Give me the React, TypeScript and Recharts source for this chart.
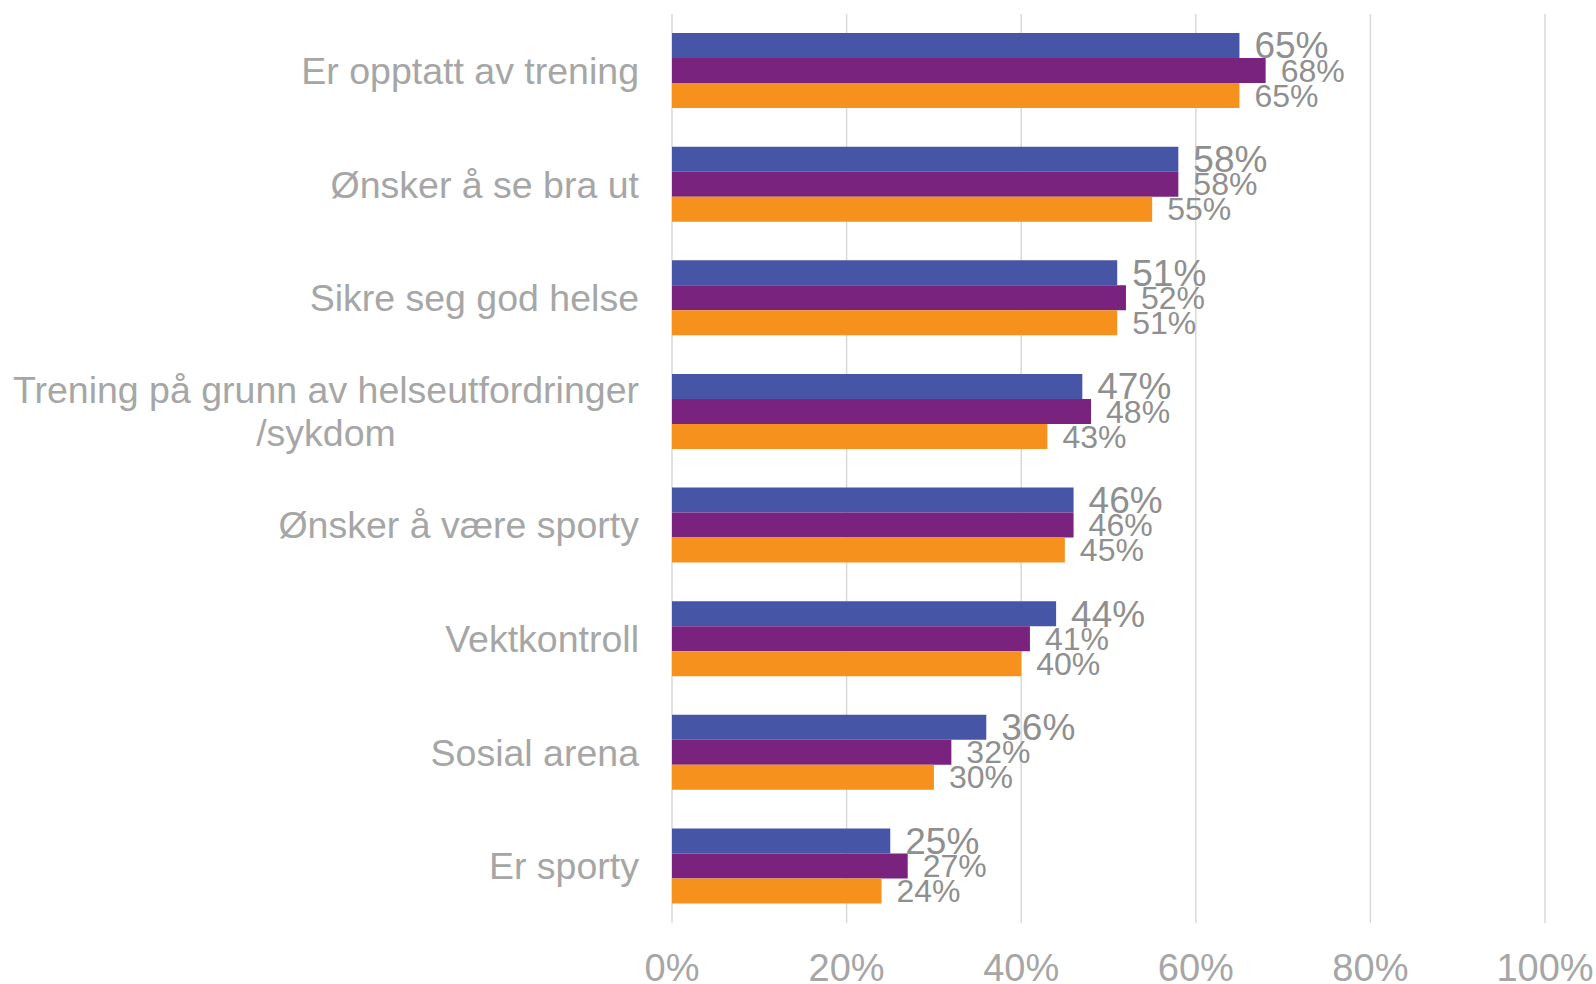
import { BarChart, Bar, XAxis, YAxis, CartesianGrid, LabelList } from 'recharts';

// kategorier (linjeskift der originalen bryter teksten)
const categories = [
  'Er opptatt av trening',
  'Ønsker å se bra ut',
  'Sikre seg god helse',
  'Trening på grunn av helseutfordringer\n/sykdom',
  'Ønsker å være sporty',
  'Vektkontroll',
  'Sosial arena',
  'Er sporty',
];

const serie1 = [65, 58, 51, 47, 46, 44, 36, 25];
const serie2 = [68, 58, 52, 48, 46, 41, 32, 27];
const serie3 = [65, 55, 51, 43, 45, 40, 30, 24];

const xTicks = [0, 20, 40, 60, 80, 100];

const data = categories.map((name, i) => ({
  name,
  serie1: serie1[i],
  serie2: serie2[i],
  serie3: serie3[i],
}));

const FONT = '"Liberation Sans", Arial, sans-serif';
const AXIS_GRAY = '#a6a6a6';
const LABEL_GRAY = '#8f8f8f';

const measure = (text: string, size: number) => {
  const ctx = document.createElement('canvas').getContext('2d');
  if (!ctx) return text.length * size * 0.5;
  ctx.font = `${size}px ${FONT}`;
  return ctx.measureText(text).width;
};

const CategoryTick = (props: any) => {
  const { x, y, payload } = props;
  const lines: string[] = String(payload.value).split('\n');
  const size = 37.5;
  if (lines.length === 1) {
    return (
      <text x={x} y={y} dy="0.35em" textAnchor="end" fontSize={size} fontFamily={FONT} fill={AXIS_GRAY}>
        {lines[0]}
      </text>
    );
  }
  const widest = Math.max(...lines.map((l) => measure(l, size)));
  const cx = x - widest / 2;
  const lh = 43;
  const top = y - ((lines.length - 1) * lh) / 2;
  return (
    <text x={cx} y={top} textAnchor="middle" fontSize={size} fontFamily={FONT} fill={AXIS_GRAY}>
      {lines.map((l, i) => (
        <tspan key={i} x={cx} y={top + i * lh} dy="0.35em">
          {l}
        </tspan>
      ))}
    </text>
  );
};

const makeLabel = (size: number) => (props: any) => {
  const { x, y, width, height, value } = props;
  return (
    <text
      x={x + width + 15}
      y={y + height / 2}
      dy="0.35em"
      fontSize={size}
      fontFamily={FONT}
      fill={LABEL_GRAY}
    >
      {value}%
    </text>
  );
};

export default function App() {
  return (
    <div style={{ position: 'absolute', left: 0, top: 0 }}>
      <BarChart
        width={1596}
        height={984}
        data={data}
        layout="vertical"
        margin={{ top: 14, right: 51, bottom: 0, left: 0 }}
        barGap={0}
      >
        <CartesianGrid horizontal={false} stroke="#d9d9d9" strokeWidth={1.5} />
        <XAxis
          type="number"
          domain={[0, 100]}
          ticks={xTicks}
          tickFormatter={(v) => `${v}%`}
          axisLine={false}
          tickLine={false}
          tickSize={0}
          tickMargin={31}
          height={61}
          tick={{ fontSize: 38, fontFamily: FONT, fill: AXIS_GRAY }}
        />
        <YAxis
          type="category"
          dataKey="name"
          width={672}
          axisLine={false}
          tickLine={false}
          tickSize={0}
          tickMargin={33}
          interval={0}
          tick={<CategoryTick />}
        />
        <Bar dataKey="serie1" fill="#4755a6" barSize={25} isAnimationActive={false}>
          <LabelList dataKey="serie1" content={makeLabel(37)} />
        </Bar>
        <Bar dataKey="serie2" fill="#7a237e" barSize={25} isAnimationActive={false}>
          <LabelList dataKey="serie2" content={makeLabel(32)} />
        </Bar>
        <Bar dataKey="serie3" fill="#f6911e" barSize={25} isAnimationActive={false}>
          <LabelList dataKey="serie3" content={makeLabel(32)} />
        </Bar>
      </BarChart>
    </div>
  );
}
